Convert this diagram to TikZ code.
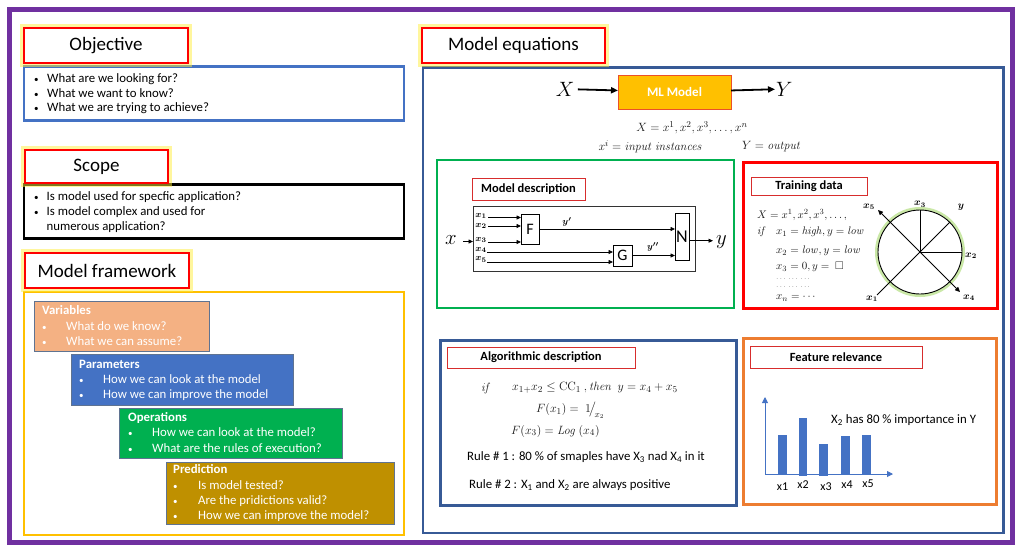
\documentclass[tikz,border=0pt]{standalone}
\usepackage[no-math]{fontspec}
\setmainfont{Carlito}
\usepackage{amsmath,amssymb,bm}
\usetikzlibrary{arrows.meta}
\definecolor{purp}{RGB}{112,48,160}
\definecolor{tred}{RGB}{255,0,0}
\definecolor{glowc}{RGB}{255,238,60}
\definecolor{oblue}{RGB}{68,114,196}
\definecolor{gold}{RGB}{255,192,0}
\definecolor{salmon}{RGB}{244,177,131}
\definecolor{pgreen}{RGB}{0,176,80}
\definecolor{dgold}{RGB}{191,144,0}
\definecolor{fborder}{RGB}{95,115,145}
\definecolor{navy}{RGB}{55,90,150}
\definecolor{orng}{RGB}{237,125,49}
\definecolor{lred}{RGB}{215,45,45}
\definecolor{mlborder}{RGB}{235,80,40}
\definecolor{eqgray}{RGB}{25,25,25}
\definecolor{glowg}{RGB}{150,210,80}
\begin{document}
\begin{tikzpicture}[x=1pt,y=-1pt,
  box/.style={anchor=north west, inner sep=0, outer sep=0},
  titlebox/.style={box, draw=tred, line width=2.2pt, fill=white,
     preaction={draw=glowc, line width=8pt, draw opacity=0.5},
     font=\fontsize{19}{21}\selectfont},
  lbl/.style={box, draw=lred, line width=0.9pt, fill=white, font=\bfseries\fontsize{12.5}{14}\selectfont},
  txt/.style={anchor=west, inner sep=0, text height=9pt, text depth=2.6pt, font=\fontsize{12.8}{14}\selectfont},
  bul/.style={anchor=west, inner sep=0, text height=9pt, text depth=2.6pt, font=\fontsize{9}{10}\selectfont},
  wtxt/.style={txt, text=white},
  wbul/.style={bul, text=white},
  wbold/.style={txt, text=white, font=\bfseries\fontsize{12.8}{14}\selectfont},
  fbox/.style={box, draw=fborder, line width=0.8pt},
  arr/.style={-{Triangle[length=4.5pt,width=4pt]}, line width=0.8pt},
  bigarr/.style={-{Triangle[length=7pt,width=6pt]}, line width=1.8pt},
  blk/.style={box, draw=black, line width=0.9pt, font=\fontsize{16}{18}\selectfont},
  mth/.style={anchor=west, inner sep=0, text=eqgray},
  xl/.style={inner sep=0, font=\fontsize{9.5}{11}\selectfont},
  tl/.style={inner sep=0, font=\fontsize{10}{11}\selectfont},
  tm/.style={mth, font=\fontsize{11}{12}\selectfont},
]
\useasboundingbox (0,0) rectangle (1020,550);
\fill[white] (0,0) rectangle (1020,550);

% outer frame
\node[box, draw=purp, line width=5pt, minimum width=1003, minimum height=533] (outer) at (9.5,9.5) {};

% ---------------- left column ----------------
\node[box, draw=oblue, line width=2.2pt, minimum width=380, minimum height=54] (objBox) at (24,66.5) {};
\node[titlebox, minimum width=164, minimum height=35] (objT) at (24,28) {Objective};
\node[bul] (ob1) at (34,79) {•};
\node[txt] (o1) at (47,79) {What are we looking for?};
\node[bul] (ob2) at (34,94) {•};
\node[txt] (o2) at (47,94) {What we want to know?};
\node[bul] (ob3) at (34,108.5) {•};
\node[txt] (o3) at (47,108.5) {What we are trying to achieve?};

\node[box, draw=black, line width=2.6pt, minimum width=380, minimum height=54] (scBox) at (24,184.5) {};
\node[titlebox, minimum width=143, minimum height=33] (scT) at (25,150) {Scope};
\node[bul] (sb1) at (34,197) {•};
\node[txt] (s1) at (46.5,197) {Is model used for specfic application?};
\node[bul] (sb2) at (34,212) {•};
\node[txt] (s2) at (46.5,212) {Is model complex and used for};
\node[txt] (s3) at (46.5,227.5) {numerous application?};

\node[box, draw=gold, line width=2.6pt, minimum width=380, minimum height=243] (fwBox) at (24,292) {};
\node[titlebox, minimum width=164, minimum height=35] (fwT) at (25,253) {Model framework};

\node[fbox, fill=salmon, minimum width=175, minimum height=50] (vars) at (34,301) {};
\node[wbold] (varsT) at (42,311.5) {Variables};
\node[wbul] (vb1) at (42,327) {•};
\node[wtxt] (v1) at (66,327) {What do we know?};
\node[wbul] (vb2) at (42,342) {•};
\node[wtxt] (v2) at (66,342) {What we can assume?};

\node[fbox, fill=oblue, minimum width=222, minimum height=51] (pars) at (71,354) {};
\node[wbold] (parsT) at (79,365) {Parameters};
\node[wbul] (pb1) at (79,380.5) {•};
\node[wtxt] (p1) at (103,380.5) {How we can look at the model};
\node[wbul] (pb2) at (79,395.5) {•};
\node[wtxt] (p2) at (103,395.5) {How we can improve the model};

\node[fbox, fill=pgreen, minimum width=223, minimum height=50] (ops) at (119,408) {};
\node[wbold] (opsT) at (128,418.5) {Operations};
\node[wbul] (qb1) at (128,433.5) {•};
\node[wtxt] (q1) at (152,433.5) {How we can look at the model?};
\node[wbul] (qb2) at (128,449) {•};
\node[wtxt] (q2) at (152,449) {What are the rules of execution?};

\node[fbox, fill=dgold, minimum width=228, minimum height=62] (pred) at (166,462) {};
\node[wbold] (predT) at (173,470.5) {Prediction};
\node[wbul] (rb1) at (173,486) {•};
\node[wtxt] (r1) at (198,486) {Is model tested?};
\node[wbul] (rb2) at (173,501) {•};
\node[wtxt] (r2) at (198,501) {Are the pridictions valid?};
\node[wbul] (rb3) at (173,516.5) {•};
\node[wtxt] (r3) at (198,516.5) {How we can improve the model?};

% ---------------- right column ----------------
\node[box, draw=navy, line width=2.6pt, minimum width=580.5, minimum height=465.5] (eqBox) at (423,67.5) {};
\node[titlebox, minimum width=183, minimum height=35] (eqT) at (422,28) {Model equations};

\node[font=\fontsize{21}{23}\selectfont] (Xin) at (565,89) {$X$};
\node[box, fill=gold, draw=mlborder, line width=0.9pt, minimum width=113, minimum height=34,
      font=\bfseries\fontsize{13}{15}\selectfont, text=white] (ml) at (618,75) {ML Model};
\node[anchor=west, inner sep=1pt, font=\fontsize{21}{23}\selectfont] (Yout) at (775,89) {$Y$};
\draw[bigarr] (Xin) -- (ml);
\draw[bigarr] (ml) -- (Yout);

\node[inner sep=0, text=eqgray, font=\fontsize{12.5}{14}\selectfont] (eq1) at (692,128) {$X = x^1, x^2, x^3, \dots, x^n$};
\node[inner sep=0, text=eqgray, font=\fontsize{12.5}{14}\selectfont] (eq2) at (650.5,147) {$x^i = \mathit{input\ instances}$};
\node[mth, font=\fontsize{12.5}{14}\selectfont] (eq3) at (742,147) {$Y = \mathit{output}$};

% Model description
\node[box, draw=pgreen, line width=2.8pt, minimum width=297, minimum height=148] (grn) at (437,160) {};
\node[lbl, minimum width=113, minimum height=22] (mdT) at (472,178) {Model description};
\node[box, draw=black!80, line width=0.8pt, minimum width=222, minimum height=65] (mdb) at (473,206) {};
\node[blk, minimum width=18, minimum height=30] (F) at (521,214) {F};
\node[blk, minimum width=19, minimum height=21] (G) at (613,245) {G};
\node[blk, minimum width=14, minimum height=47, font=\fontsize{18}{20}\selectfont] (N) at (675,213) {N};
\node[xl] (lx1) at (481,216) {$\bm{x_1}$};
\node[xl] (lx2) at (481,226) {$\bm{x_2}$};
\node[xl] (lx3) at (481,240) {$\bm{x_3}$};
\node[xl] (lx4) at (481,250) {$\bm{x_4}$};
\node[xl] (lx5) at (481,259.5) {$\bm{x_5}$};
\coordinate (a1) at (488,217.5);
\coordinate (a2) at (488,226);
\coordinate (a3) at (488,242);
\coordinate (a4) at (487,252);
\coordinate (a5) at (487,262);
\draw[arr] (a1) -- (a1 -| F.west);
\draw[arr] (a2) -- (a2 -| F.west);
\draw[arr] (a3) -- (a3 -| F.west);
\draw[arr] (a4) -- (a4 -| G.west);
\draw[arr] (a5) -- (a5 -| G.west);
\draw[arr] (F.east) -- (F.east -| N.west);
\draw[arr] (G.east) -- (G.east -| N.west);
\node[xl] (yp) at (567,222) {$\bm{y'}$};
\node[xl] (ypp) at (653,247) {$\bm{y''}$};
\node[inner sep=0, font=\fontsize{22}{24}\selectfont] (xin) at (451,240) {$x$};
\coordinate (xa) at (463,241.5);
\draw[arr] (xa) -- (xa -| mdb.west);
\node[anchor=west, inner sep=0, font=\fontsize{22}{24}\selectfont] (yo) at (716,242) {$y$};
\coordinate (ya) at (689,240.7);
\coordinate (yend) at (713,240.7);
\draw[arr] (ya) -- (yend);

% Training data
\node[box, draw=tred, line width=3pt, minimum width=254, minimum height=146] (trn) at (743,162) {};
\node[lbl, minimum width=116, minimum height=18] (tdT) at (751,177) {Training data};
\node[tm] (t1) at (757,215) {$X = x^1, x^2, x^3, \dots,$};
\node[tm] (t2a) at (757,232) {$\mathit{if}$};
\node[tm] (t2) at (776,232) {$x_1 = \mathit{high}, y = \mathit{low}$};
\node[tm] (t3) at (776,251) {$x_2 = \mathit{low}, y = \mathit{low}$};
\node[tm] (t4) at (776,267) {$x_3 = 0, y = \ \square$};
\node[mth, font=\fontsize{6.5}{7}\selectfont] (t5) at (776,279) {$\cdots\ \cdots\ \cdots$};
\node[mth, font=\fontsize{6.5}{7}\selectfont] (t6) at (776,287) {$\cdots\ \cdots\ \cdots$};
\node[tm] (t7) at (776,298) {$x_n = \cdots$};

\node[circle, draw=black, fill=white, line width=0.9pt, minimum size=84, inner sep=0,
      preaction={draw=glowg, line width=6pt, draw opacity=0.5}] (circ) at (920,252) {};
\coordinate (q1) at (877,295);
\coordinate (p5) at (878,210);
\coordinate (p4) at (960,292);
\draw[line width=0.8pt] (circ.center) -- (circ.north);
\draw[line width=0.8pt] (circ.center) -- (circ.east);
\draw[line width=0.8pt] (q1) -- (circ.north east);
\draw[{Triangle[length=5pt,width=4.5pt]}-{Triangle[length=5pt,width=4.5pt]}, line width=0.8pt] (p5) -- (p4);
\node[tl] (c3) at (920,204.5) {$\bm{x_3}$};
\node[tl] (c5) at (869,207) {$\bm{x_5}$};
\node[tl] (cy) at (961,207) {$\bm{y}$};
\node[tl] (c2) at (971,256) {$\bm{x_2}$};
\node[tl] (c1) at (872,299) {$\bm{x_1}$};
\node[tl] (c4) at (969,298) {$\bm{x_4}$};

% Algorithmic description
\node[box, draw=navy, line width=3pt, minimum width=296, minimum height=165] (alg) at (440,340) {};
\node[lbl, minimum width=188, minimum height=21] (agT) at (447,347) {Algorithmic description};
\node[mth, font=\fontsize{12.5}{14}\selectfont] (g0) at (481,388) {$\mathit{if}$};
\node[mth, font=\fontsize{12.5}{14}\selectfont] (g1) at (512,388) {$x_{1+}x_2 \leq \mathrm{CC}_1\ , \mathit{then}\ \ y = x_4 + x_5$};
\node[mth, font=\fontsize{12.5}{14}\selectfont] (g2) at (536,410.5) {$F(x_1) =\ 1\!\big/_{\!x_2}$};
\node[mth, font=\fontsize{12.5}{14}\selectfont] (g3) at (511,431) {$F(x_3) = \mathit{Log}\ (x_4)$};
\node[txt] (rule1) at (467,457.5) {Rule \# 1 : 80 \% of smaples have X\textsubscript{3} nad X\textsubscript{4} in it};
\node[txt] (rule2) at (469,485.5) {Rule \# 2 : X\textsubscript{1} and X\textsubscript{2} are always positive};

% Feature relevance
\node[box, draw=orng, line width=3pt, minimum width=253, minimum height=166] (feat) at (743,338) {};
\node[lbl, minimum width=172, minimum height=22] (frT) at (750,346) {Feature relevance};
\coordinate (org) at (765,474);
\coordinate (ytop) at (765,397);
\coordinate (xend) at (893,474);
\fill[oblue] (778,435) rectangle (786.5,474);
\fill[oblue] (799,418) rectangle (806.5,476);
\fill[oblue] (819,444) rectangle (828,476);
\fill[oblue] (841,436) rectangle (850,475);
\fill[oblue] (862,435) rectangle (871,474);
\draw[oblue, line width=0.9pt, -{Triangle[length=6pt,width=6pt]}] (org) -- (ytop);
\draw[oblue, line width=0.9pt, -{Triangle[length=6pt,width=6pt]}] (org) -- (xend);
\node[txt, anchor=center, font=\fontsize{12}{13}\selectfont] (b1) at (782.5,487.5) {x1};
\node[txt, anchor=center, font=\fontsize{12}{13}\selectfont] (b2) at (803,485.5) {x2};
\node[txt, anchor=center, font=\fontsize{12}{13}\selectfont] (b3) at (826,487.5) {x3};
\node[txt, anchor=center, font=\fontsize{12}{13}\selectfont] (b4) at (847,485.5) {x4};
\node[txt, anchor=center, font=\fontsize{12}{13}\selectfont] (b5) at (868,484) {x5};
\node[txt] (imp) at (831,420) {X\textsubscript{2} has 80 \% importance in Y};
\end{tikzpicture}
\end{document}
